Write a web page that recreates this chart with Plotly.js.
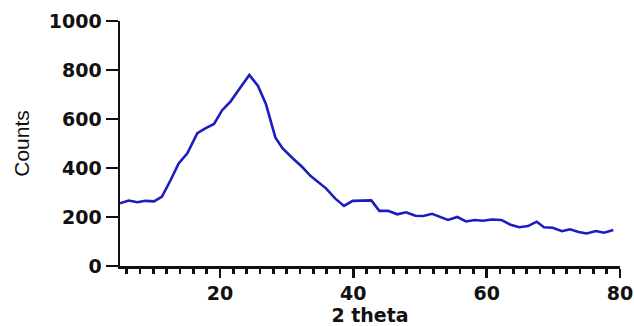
<!DOCTYPE html>
<html>
<head>
<meta charset="utf-8">
<script src="https://cdn.plot.ly/plotly-3.0.1.min.js"></script>
<style>html,body{margin:0;padding:0;background:#fff;}#chart{width:634px;height:326px;}</style>
</head>
<body>
<div id="chart"></div>
<script>
const twoTheta = [5.0, 6.3, 7.6, 8.8, 10.1, 11.3, 12.6, 13.8, 15.1, 16.6, 17.8, 19.1, 20.3, 21.6, 22.9, 24.4, 25.7, 26.9, 28.3, 29.4, 30.9, 32.3, 33.6, 34.8, 35.9, 37.3, 38.6, 39.9, 41.3, 42.7, 43.9, 45.2, 46.6, 47.9, 49.3, 50.5, 51.8, 53.0, 54.2, 55.6, 56.9, 58.2, 59.4, 60.8, 62.2, 63.6, 64.9, 66.2, 67.5, 68.6, 69.9, 71.3, 72.5, 73.8, 75.0, 76.4, 77.6, 79.0];
const counts = [256, 267, 260, 266, 264, 283, 351, 419, 460, 542, 562, 580, 635, 672, 722, 780, 735, 660, 525, 480, 440, 405, 367, 340, 317, 275, 245, 266, 266, 268, 225, 225, 211, 219, 205, 204, 213, 200, 188, 200, 182, 188, 185, 190, 188, 168, 158, 163, 181, 158, 156, 142, 150, 139, 133, 143, 136, 147];
const xTicks = [20, 40, 60, 80];
const yTicks = [0, 200, 400, 600, 800, 1000];
const xTitle = "2 theta";
const yTitle = "Counts";

const tickFont = {family: "DejaVu Sans", size: 19, color: "#111", weight: 700};

Plotly.newPlot("chart", [{
  x: twoTheta, y: counts, type: "scatter", mode: "lines",
  line: {color: "#1c1cbf", width: 2.6},
  hoverinfo: "skip"
}], {
  width: 634, height: 326,
  margin: {l: 120, r: 14, t: 21, b: 60},
  paper_bgcolor: "#fff", plot_bgcolor: "#fff",
  showlegend: false,
  xaxis: {
    range: [5, 80], tickmode: "array", tickvals: xTicks, ticktext: xTicks.map(String),
    showgrid: false, zeroline: false, showline: true, linecolor: "#111", linewidth: 2.5,
    ticks: "outside", ticklen: 9, tickwidth: 2.5, tickcolor: "#111",
    minor: {dtick: 2, tick0: 0, ticks: "outside", ticklen: 5, tickwidth: 2.5, tickcolor: "#111", showgrid: false},
    tickfont: tickFont,
    title: {text: xTitle, font: {family: "DejaVu Sans", size: 19, color: "#111", weight: 700}, standoff: 12}
  },
  yaxis: {
    range: [0, 1000], tickmode: "array", tickvals: yTicks, ticktext: yTicks.map(String),
    showgrid: false, zeroline: false, showline: true, linecolor: "#111", linewidth: 2.5,
    ticks: "outside", ticklen: 12, tickwidth: 2.5, tickcolor: "#111",
    tickfont: tickFont,
    title: {text: yTitle, font: {family: "Liberation Sans", size: 21, color: "#111"}, standoff: 14}
  }
}, {displayModeBar: false, staticPlot: true});
</script>
</body>
</html>
